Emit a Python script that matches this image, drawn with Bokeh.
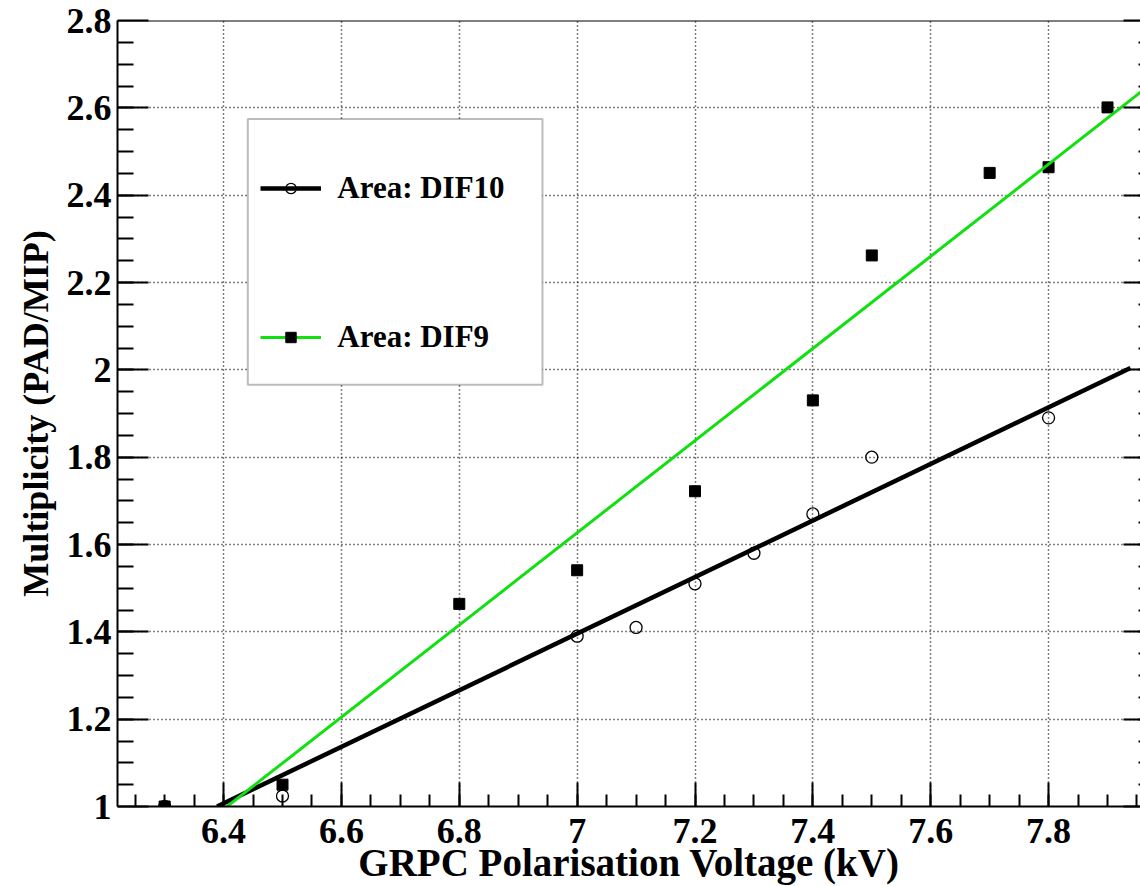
import numpy as np
from bokeh.plotting import figure
from bokeh.models import (Range1d, FixedTicker, LinearAxis, Span,
                          Legend, LegendItem, BoxAnnotation)
from bokeh.embed import file_html
from bokeh.resources import INLINE

# ---------------- data ----------------
dif10_voltage = [6.3, 6.5, 7.0, 7.1, 7.2, 7.3, 7.4, 7.5, 7.8]
dif10_mult = [1.00, 1.024, 1.39, 1.41, 1.51, 1.58, 1.67, 1.80, 1.89]

dif9_voltage = [6.3, 6.5, 6.8, 7.0, 7.2, 7.4, 7.5, 7.7, 7.8, 7.9]
dif9_mult = [1.00, 1.05, 1.464, 1.541, 1.722, 1.930, 2.262, 2.451, 2.464, 2.601]

# fitted straight lines (end points)
dif10_fit_voltage = [6.389, 7.939]
dif10_fit_mult = [1.0, 2.004]
dif9_fit_voltage = [6.406, 7.98]
dif9_fit_mult = [1.0, 2.661]

x_ticks = [6.4, 6.6, 6.8, 7, 7.2, 7.4, 7.6, 7.8]
x_tick_labels = ["6.4", "6.6", "6.8", "7", "7.2", "7.4", "7.6", "7.8"]
y_ticks = [1, 1.2, 1.4, 1.6, 1.8, 2, 2.2, 2.4, 2.6, 2.8]
y_tick_labels = ["1", "1.2", "1.4", "1.6", "1.8", "2", "2.2", "2.4", "2.6", "2.8"]
x_axis_range = (6.22, 7.956)
y_axis_range = (1.0, 2.8)

x_title = "GRPC Polarisation Voltage (kV)"
y_title = "Multiplicity (PAD/MIP)"
series_names = ["Area: DIF10", "Area: DIF9"]

# ---------------- styling ----------------
FONT = "Liberation Serif"
GREEN = "#10e010"
W, H = 1140, 886

x_minor = list(np.round(np.arange(6.25, 7.96, 0.05), 2))
y_minor = list(np.round(np.arange(1.05, 2.76, 0.05), 2))

p = figure(width=W, height=H, output_backend="svg", toolbar_location=None,
           x_range=Range1d(*x_axis_range), y_range=Range1d(*y_axis_range),
           min_border_left=117, min_border_right=0, min_border_top=20,
           min_border_bottom=79)
p.outline_line_color = None
p.background_fill_color = "white"
p.border_fill_color = "white"

xt = FixedTicker(ticks=x_ticks, minor_ticks=x_minor)
yt = FixedTicker(ticks=y_ticks, minor_ticks=y_minor)

xa = p.xaxis[0]
xa.ticker = xt
xa.major_label_overrides = dict(zip(x_ticks, x_tick_labels))
xa.major_tick_in = 24
xa.major_tick_out = 0
xa.minor_tick_in = 12
xa.minor_tick_out = 0
xa.axis_line_width = 2
xa.major_tick_line_width = 2
xa.minor_tick_line_width = 2
xa.major_label_standoff = 12
xa.major_label_text_font = FONT
xa.major_label_text_font_style = "bold"
xa.major_label_text_font_size = "36px"
xa.major_label_text_color = "black"
xa.axis_label = x_title
xa.axis_label_text_font = FONT
xa.axis_label_text_font_style = "bold"
xa.axis_label_text_font_size = "39px"
xa.axis_label_text_color = "black"
xa.axis_label_standoff = -5

ya = p.yaxis[0]
ya.ticker = yt
ya.major_label_overrides = dict(zip(y_ticks, y_tick_labels))
ya.major_tick_in = 31
ya.major_tick_out = 0
ya.minor_tick_in = 16
ya.minor_tick_out = 0
ya.axis_line_width = 2
ya.major_tick_line_width = 2
ya.minor_tick_line_width = 2
ya.major_label_standoff = 6
ya.major_label_text_font = FONT
ya.major_label_text_font_style = "bold"
ya.major_label_text_font_size = "36px"
ya.major_label_text_color = "black"
ya.axis_label = y_title
ya.axis_label_text_font = FONT
ya.axis_label_text_font_style = "bold"
ya.axis_label_text_font_size = "36px"
ya.axis_label_text_color = "black"
ya.axis_label_standoff = 8

ra = LinearAxis(ticker=yt, major_label_overrides={t: "" for t in y_ticks},
                major_tick_in=17, major_tick_out=0, minor_tick_in=2, minor_tick_out=0,
                axis_line_color=None, major_tick_line_width=2, minor_tick_line_width=2,
                major_label_standoff=0)
p.add_layout(ra, "right")

p.xgrid.ticker = xt
p.ygrid.ticker = yt
for g in (p.xgrid, p.ygrid):
    g.grid_line_color = "black"
    g.grid_line_dash = "1 3"
    g.grid_line_width = 1.5

p.add_layout(Span(location=y_axis_range[1], dimension="width",
                  line_color="black", line_width=2))

# ---------------- data marks ----------------
r10 = p.scatter(dif10_voltage, dif10_mult, marker="circle", size=12,
                fill_color=None, line_color="black", line_width=1.3)
r9 = p.scatter(dif9_voltage, dif9_mult, marker="square", size=11,
               fill_color="black", line_color="black")
l10 = p.line(dif10_fit_voltage, dif10_fit_mult, line_color="black", line_width=4.5)
l9 = p.line(dif9_fit_voltage, dif9_fit_mult, line_color=GREEN, line_width=3)

# ---------------- legend ----------------
p.add_layout(BoxAnnotation(left=130.3, right=425.0, bottom=421.7, top=687.4,
                           left_units="screen", right_units="screen",
                           top_units="screen", bottom_units="screen",
                           fill_color="white", fill_alpha=1.0,
                           line_color="#222222", line_width=2))

for name, rends, ly in ((series_names[0], [l10, r10], 599.7),
                        (series_names[1], [l9, r9], 451.4)):
    leg = Legend(items=[LegendItem(label=name, renderers=rends)],
                 location=(143.3, ly), glyph_width=61, glyph_height=26,
                 label_height=26, label_standoff=16, padding=0, margin=0,
                 spacing=0, border_line_color=None, background_fill_alpha=0,
                 label_text_font=FONT, label_text_font_style="bold",
                 label_text_font_size="31px", label_text_color="black")
    p.add_layout(leg)

open("out.html", "w").write(file_html(p, INLINE))
